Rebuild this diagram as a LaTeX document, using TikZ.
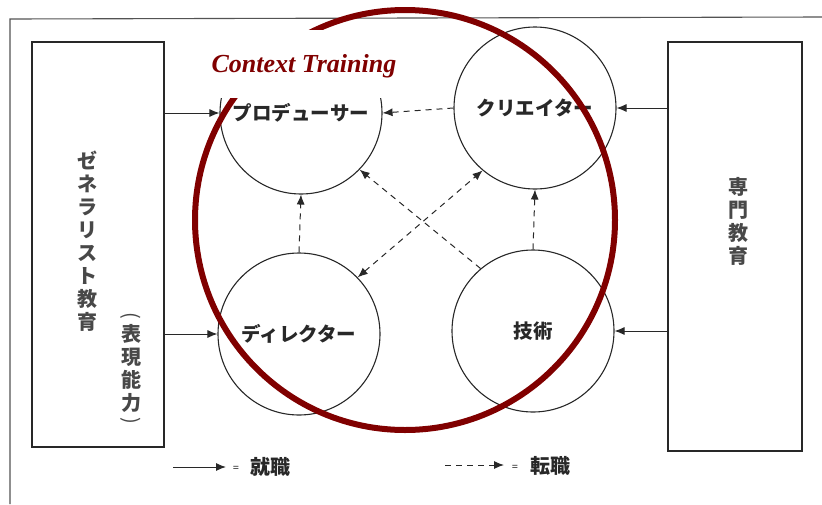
\documentclass[tikz,border=0pt]{standalone}
\usepackage{fontspec}
\setmainfont{Liberation Serif}
\newfontfamily\cjk{Noto Sans CJK JP}
\usetikzlibrary{arrows.meta}
\definecolor{ink}{RGB}{40,40,40}
\definecolor{ctred}{RGB}{128,0,0}
\tikzset{
  tip/.tip={Latex[length=10pt,width=8pt]},
  boxstyle/.style={draw=ink, line width=1.2pt, inner sep=0pt},
  role/.style={draw=ink, line width=1.1pt, circle, inner sep=0pt, minimum size=162pt, font=\cjk\bfseries\fontsize{19.5}{22}\selectfont, text=ink},
  vtext/.style={align=center, inner sep=0pt, font=\cjk\bfseries\fontsize{20}{23}\selectfont, text=ink!85},
  paren/.style={inner sep=0pt, rotate=-90, font=\cjk\fontsize{20}{23}\selectfont, text=ink!85},
  hire/.style={draw=ink, line width=1pt, -tip},
  move/.style={draw=ink, line width=1pt, dash pattern=on 6pt off 5pt, -tip},
  legtext/.style={inner sep=0pt, font=\cjk\bfseries\fontsize{20}{22}\selectfont, text=ink},
  eqsign/.style={inner sep=0pt, font=\bfseries\fontsize{11}{11}\selectfont, text=ink},
}
\begin{document}
\begin{tikzpicture}[x=1pt,y=-1pt]
\useasboundingbox (0,0) rectangle (822,504);
% outer frame of the scanned figure
\draw[ink!80, line width=1.1pt] (10,504) -- (10,19) -- (822,17);

% side boxes
\node[boxstyle, minimum width=132pt, minimum height=405pt] (lbox) at (98,244.5) {};
\node[boxstyle, minimum width=134pt, minimum height=409pt] (rbox) at (735,246.5) {};
\node[vtext] (gen) at (87,241) {ゼ\\ネ\\ラ\\リ\\ス\\ト\\教\\育};
\node[vtext] (hyo) at (131,368) {表\\現\\能\\力};
\node[paren] (hyoL) at (131,316) {(};
\node[paren] (hyoR) at (131,421) {)};
\node[vtext] (sen) at (738,221) {専\\門\\教\\育};

% role circles
\node[role] (prod) at (301,113) {プロデューサー};
\node[role] (cre) at (535,108) {クリエイター};
\node[role] (dir) at (299,334) {ディレクター};
\node[role] (tech) at (533,331) {技術};

% hiring arrows
\draw[hire] (lbox.east |- prod.west) -- (prod.west);
\draw[hire] (lbox.east |- dir.west) -- (dir.west);
\draw[hire] (rbox.west |- cre.east) -- (cre.east);
\draw[hire] (rbox.west |- tech.east) -- (tech.east);

% job-change arrows
\draw[move] (cre.west) -- (prod.east);
\draw[move] (dir.north) -- (prod.south);
\draw[move] (tech.north) -- (cre.south);
\draw[move] (tech.130) -- (prod.-44);
\draw[move, tip-tip] (dir.44) -- (cre.230);

% legend
\coordinate (la) at (173,467);
\coordinate (lb) at (226,467);
\draw[hire] (la) -- (lb);
\node[eqsign] (leq) at (236,469) {=};
\node[legtext] (lj) at (270,467) {就職};
\coordinate (ma) at (445,465);
\coordinate (mb) at (504,465);
\draw[move] (ma) -- (mb);
\node[eqsign] (meq) at (515,468) {=};
\node[legtext] (mj) at (550,466) {転職};

% red overlay circle
\draw[ctred, line width=6pt] (405,220) circle[radius=210];
\node[fill=white, inner sep=0pt, minimum width=213pt, minimum height=68pt] (lblbg) at (303.5,64) {};
\node[inner sep=0pt, text=ctred, font=\fontsize{26}{28}\selectfont\bfseries\itshape] (title) at (304,66) {Context Training};
\end{tikzpicture}
\end{document}
